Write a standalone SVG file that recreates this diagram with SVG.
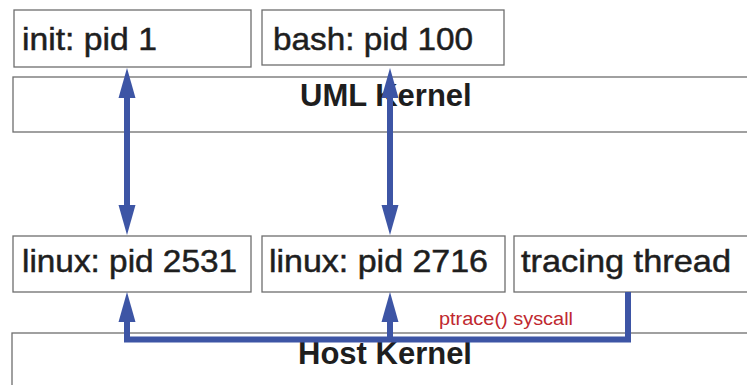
<svg xmlns="http://www.w3.org/2000/svg" width="747" height="385" viewBox="0 0 747 385">
  <style>
    .box { fill: #ffffff; stroke: #6e6e6e; stroke-width: 1.3; }
    .label { font-family: "Liberation Sans", Arial, sans-serif; font-size: 32px; fill: #1e1e1e; stroke: #1e1e1e; stroke-width: 0.5; }
    .kernel { font-family: "Liberation Sans", Arial, sans-serif; font-size: 31px; font-weight: bold; fill: #1e1e1e; }
    .note { font-family: "Liberation Sans", Arial, sans-serif; font-size: 18px; fill: #c0282f; }
    .wire { fill: none; stroke: #3d55a5; stroke-width: 6; stroke-linejoin: miter; }
  </style>
  <defs>
    <marker id="head" markerUnits="userSpaceOnUse" markerWidth="32" markerHeight="20" viewBox="0 -10 32 20" refX="0" refY="0" orient="auto-start-reverse">
      <path d="M0,-8.5 L30,0 L0,8.5 Z" fill="#3d55a5"/>
    </marker>
  </defs>
  <rect width="747" height="385" fill="#ffffff"/>

  <!-- UML side -->
  <g id="uml-kernel">
    <rect class="box" x="13" y="77" width="740" height="55"/>
    <text class="kernel" x="300" y="106">UML Kernel</text>
  </g>
  <g id="init">
    <rect class="box" x="14" y="10" width="237" height="57"/>
    <text class="label" x="22" y="50" textLength="135" lengthAdjust="spacingAndGlyphs">init: pid 1</text>
  </g>
  <g id="bash">
    <rect class="box" x="262" y="10" width="242" height="55"/>
    <text class="label" x="273" y="50" textLength="200" lengthAdjust="spacingAndGlyphs">bash: pid 100</text>
  </g>

  <!-- host side -->
  <g id="host-kernel">
    <rect class="box" x="12" y="333" width="740" height="60"/>
    <text class="kernel" x="298" y="364">Host Kernel</text>
  </g>
  <g id="linux-2531">
    <rect class="box" x="13" y="236" width="238" height="56"/>
    <text class="label" x="22" y="272" textLength="215" lengthAdjust="spacingAndGlyphs">linux: pid 2531</text>
  </g>
  <g id="linux-2716">
    <rect class="box" x="262" y="236" width="243" height="56"/>
    <text class="label" x="269" y="272" textLength="219" lengthAdjust="spacingAndGlyphs">linux: pid 2716</text>
  </g>
  <g id="tracing-thread">
    <rect class="box" x="514" y="236" width="240" height="56"/>
    <text class="label" x="521" y="272" textLength="210" lengthAdjust="spacingAndGlyphs">tracing thread</text>
  </g>

  <!-- connectors -->
  <g id="connectors">
    <line class="wire" x1="127" y1="98" x2="127" y2="205" marker-start="url(#head)" marker-end="url(#head)"/>
    <line class="wire" x1="390" y1="98" x2="390" y2="205" marker-start="url(#head)" marker-end="url(#head)"/>
    <path class="wire" d="M628,292 V339.5 H127 V322" marker-end="url(#head)"/>
    <path class="wire" d="M390,339.5 V322" marker-end="url(#head)"/>
    <text class="note" x="439" y="325" textLength="134" lengthAdjust="spacingAndGlyphs">ptrace() syscall</text>
  </g>
</svg>
